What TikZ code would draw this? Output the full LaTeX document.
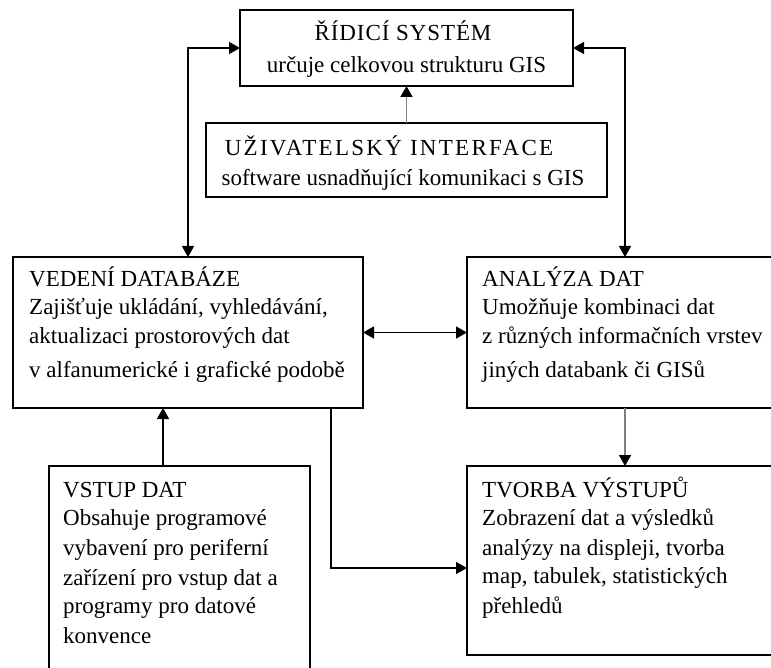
\documentclass[tikz,border=0pt]{standalone}
\usepackage{fontspec}
\setmainfont{Liberation Serif}
\usetikzlibrary{arrows.meta}
\begin{document}
\begin{tikzpicture}[x=1pt,y=-1pt,
  box/.style={draw=black, line width=1.5pt, rectangle, inner sep=0pt, outer sep=0pt, anchor=north west},
  txt/.style={anchor=base west, inner sep=0pt, font=\fontsize{23}{28}\selectfont},
  ctxt/.style={anchor=base, inner sep=0pt, font=\fontsize{23}{28}\selectfont},
  conn/.style={line width=1.5pt, -{Triangle[length=11pt,width=12pt]}},
  biconn/.style={line width=1.5pt, {Triangle[length=11pt,width=12pt]}-{Triangle[length=11pt,width=12pt]}},
  grayconn/.style={line width=1.5pt, draw=gray, -{Triangle[length=11pt,width=12pt,color=black]}}
]
\path[use as bounding box] (0,0) rectangle (771,668);
\clip (0,0) rectangle (771,668);
\fill[white] (0,0) rectangle (771,668);

% boxes
\node[box, minimum width=333pt, minimum height=76pt] (ridici) at (240,10) {};
\node[box, minimum width=401pt, minimum height=74pt] (uziv) at (206,123) {};
\node[box, minimum width=350pt, minimum height=151pt] (vedeni) at (13,257) {};
\node[box, minimum width=316pt, minimum height=151pt] (analyza) at (467,257) {};
\node[box, minimum width=261pt, minimum height=230pt] (vstup) at (49,466) {};
\node[box, minimum width=316pt, minimum height=189pt] (tvorba) at (467,466) {};

% texts
\node[ctxt] (r1) at (403,41) {\addfontfeature{LetterSpace=4}ŘÍDICÍ SYSTÉM};
\node[ctxt] (r2) at (406.5,73) {určuje celkovou strukturu GIS};
\node[ctxt] (u1) at (389,156) {\addfontfeature{LetterSpace=10}UŽIVATELSKÝ INTERFACE};
\node[ctxt] (u2) at (403,186) {software usnadňující komunikaci s GIS};

\node[txt] (v1) at (29,287) {VEDENÍ DATABÁZE};
\node[txt] (v2) at (29,315) {Zajišťuje ukládání, vyhledávání,};
\node[txt] (v3) at (29,343) {aktualizaci prostorových dat};
\node[txt] (v4) at (29,377) {v alfanumerické i grafické podobě};

\node[txt] (a1) at (482,287) {ANALÝZA DAT};
\node[txt] (a2) at (482,315) {Umožňuje kombinaci dat};
\node[txt] (a3) at (482,343) {z různých informačních vrstev};
\node[txt] (a4) at (482,377) {jiných databank či GISů};

\node[txt] (s1) at (63,497) {VSTUP DAT};
\node[txt] (s2) at (63,525) {Obsahuje programové};
\node[txt] (s3) at (63,555) {vybavení pro periferní};
\node[txt] (s4) at (63,585) {zařízení pro vstup dat a};
\node[txt] (s5) at (63,613) {programy pro datové};
\node[txt] (s6) at (63,643) {konvence};

\node[txt] (o1) at (482,497) {TVORBA VÝSTUPŮ};
\node[txt] (o2) at (482,525) {Zobrazení dat a výsledků};
\node[txt] (o3) at (482,555) {analýzy na displeji, tvorba};
\node[txt] (o4) at (482,583) {map, tabulek, statistických};
\node[txt] (o5) at (482,613) {přehledů};

% connectors
\coordinate (c1) at (163,0);
\coordinate (bend) at (331,568);
\draw[biconn] (ridici.west) -| (vedeni.north);
\draw[biconn] (ridici.east) -| (analyza.north);
\draw[grayconn] (uziv.north) -- (ridici.south);
\draw[biconn] (vedeni.east) -- (analyza.west);
\draw[grayconn] (analyza.south) -- (tvorba.north);
\draw[conn] (vstup.north -| c1) -- (vedeni.south -| c1);
\draw[conn] (vedeni.south -| bend) -- (bend) -- (tvorba.west |- bend);
\end{tikzpicture}
\end{document}
